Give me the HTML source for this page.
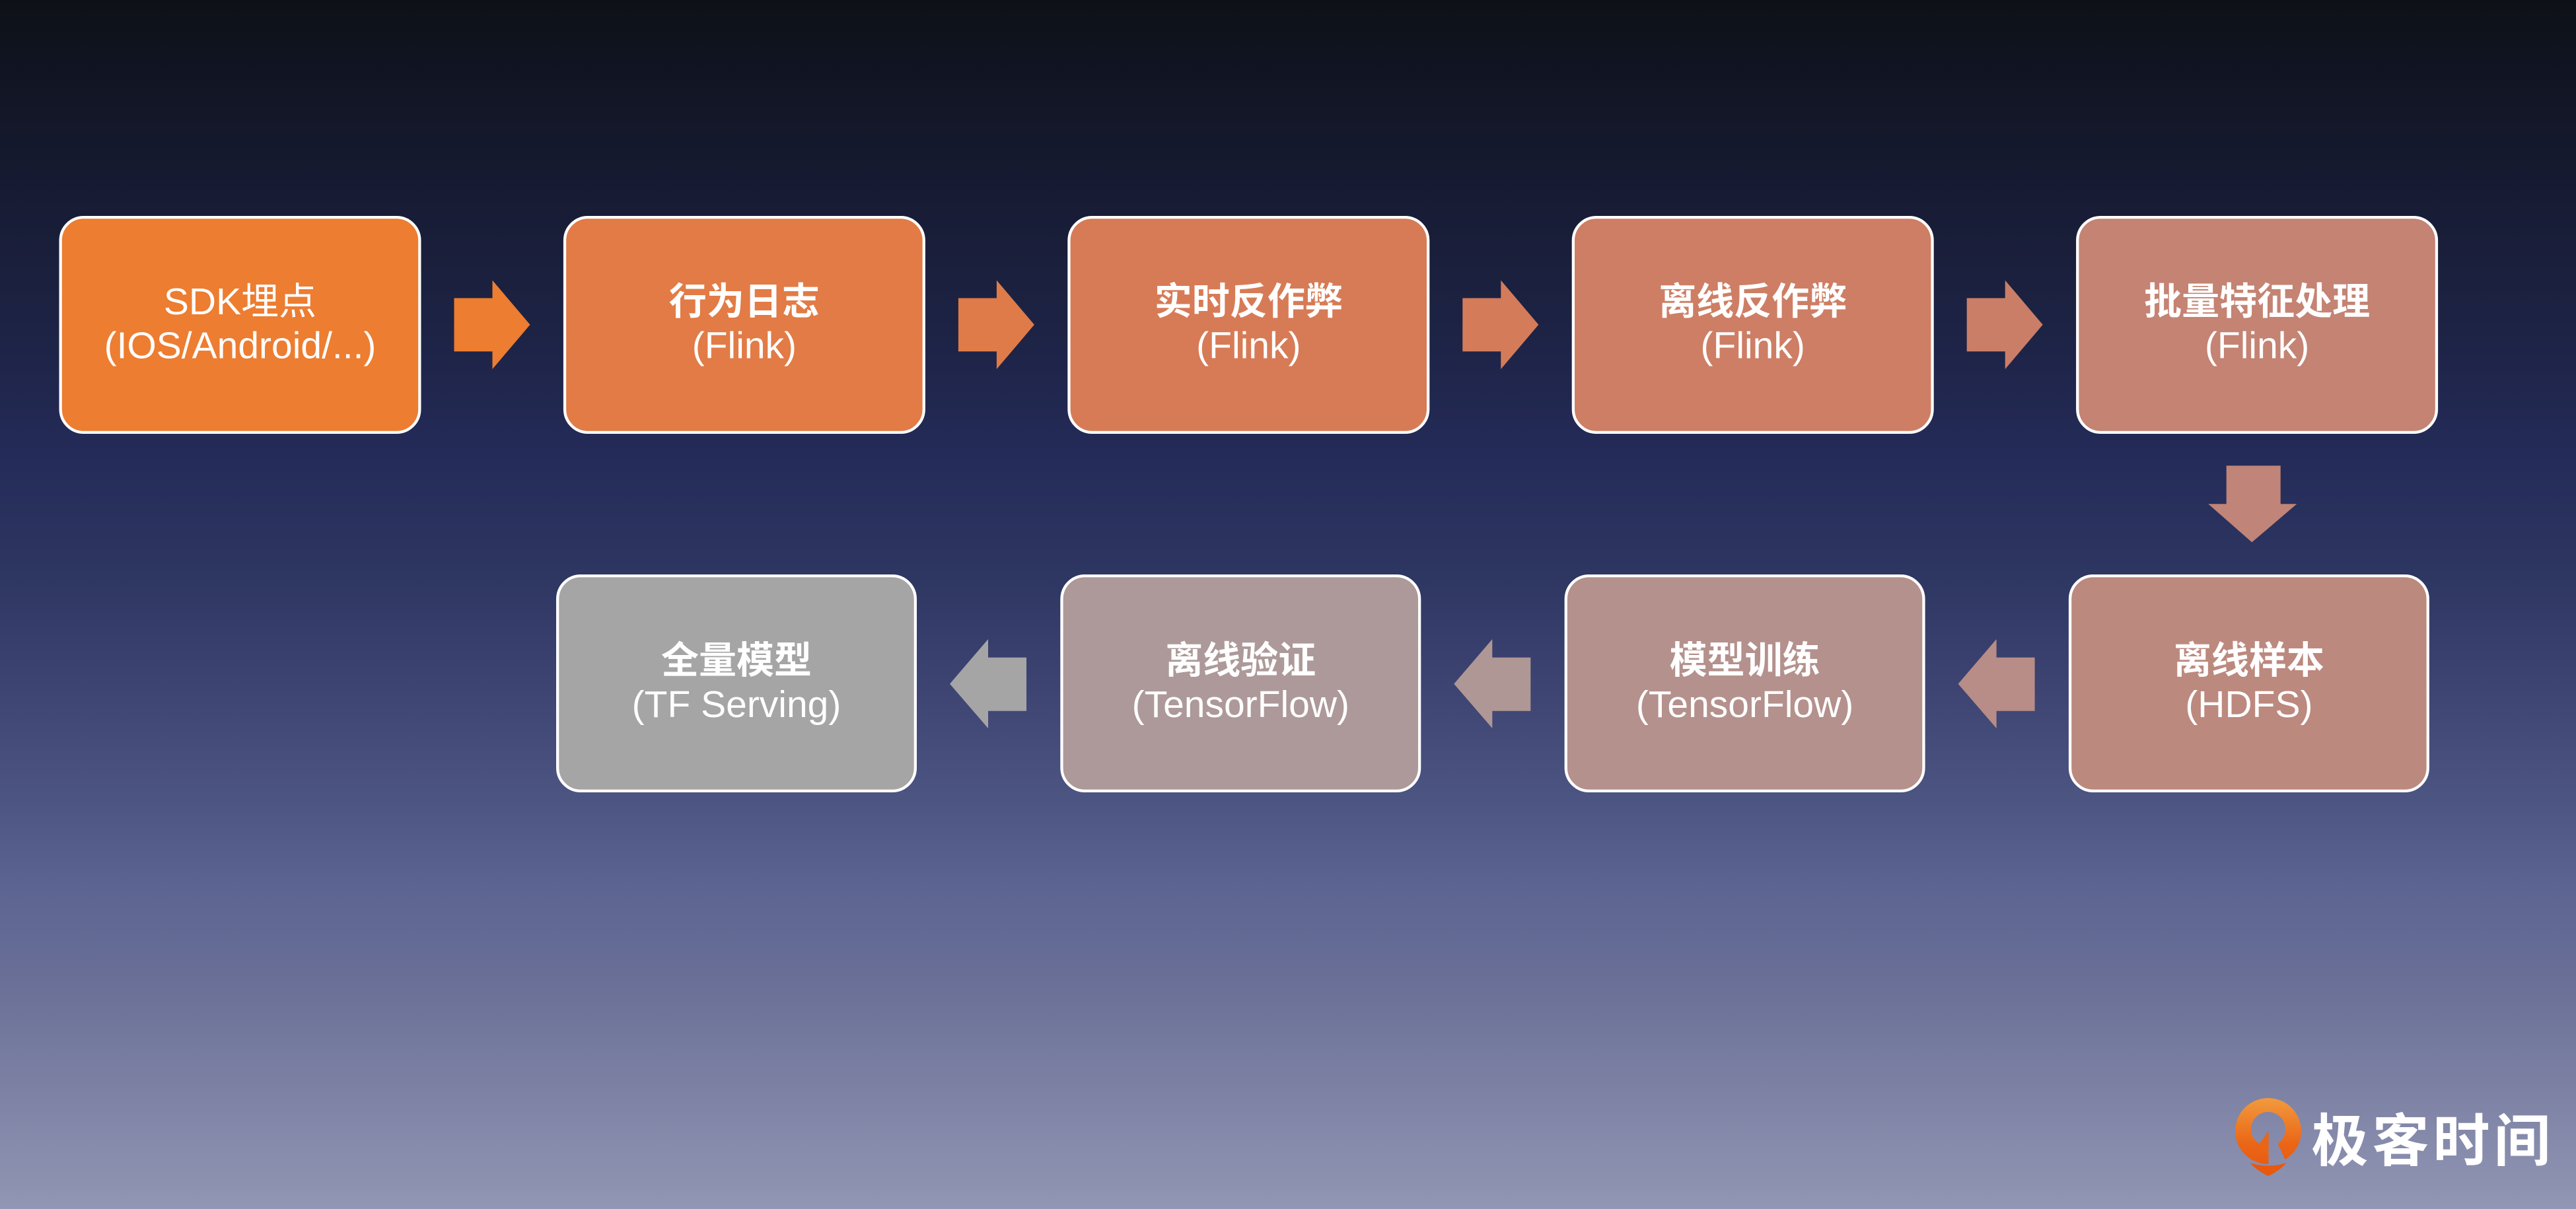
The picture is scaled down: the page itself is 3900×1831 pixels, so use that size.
<!DOCTYPE html>
<html>
<head>
<meta charset="utf-8">
<style>
  html, body { margin: 0; padding: 0; background: #0D1117; }
  svg { display: block; }
  .t { font-family: "Liberation Sans", "Noto Sans CJK SC", sans-serif; font-size: 57px; fill: #ffffff; text-anchor: middle; }
  .cn { font-weight: bold; }
  .logo { font-family: "Liberation Sans", "Noto Sans CJK SC", sans-serif; font-size: 86px; font-weight: bold; fill: #ffffff; letter-spacing: 6px; }
</style>
</head>
<body>
<svg width="3900" height="1831" viewBox="0 0 3900 1831" xmlns="http://www.w3.org/2000/svg">
  <defs>
    <linearGradient id="bg" x1="0" y1="0" x2="0" y2="1831" gradientUnits="userSpaceOnUse">
      <stop offset="0" stop-color="#0D1117"/>
      <stop offset="0.064" stop-color="#111523"/>
      <stop offset="0.16" stop-color="#171B33"/>
      <stop offset="0.287" stop-color="#1E2447"/>
      <stop offset="0.376" stop-color="#242B58"/>
      <stop offset="0.478" stop-color="#2E3662"/>
      <stop offset="0.574" stop-color="#3E4573"/>
      <stop offset="0.67" stop-color="#4E5683"/>
      <stop offset="0.733" stop-color="#5C6491"/>
      <stop offset="0.816" stop-color="#6A7097"/>
      <stop offset="0.893" stop-color="#7B80A3"/>
      <stop offset="0.982" stop-color="#8E92B1"/>
      <stop offset="1" stop-color="#9297B5"/>
    </linearGradient>
    <linearGradient id="logoG" x1="0" y1="1663" x2="0" y2="1781" gradientUnits="userSpaceOnUse">
      <stop offset="0" stop-color="#F29A3E"/>
      <stop offset="0.6" stop-color="#EA6516"/>
      <stop offset="1" stop-color="#E8580F"/>
    </linearGradient>
    <clipPath id="gapClip">
      <path d="M3370,1650 L3500,1650 L3500,1790 L3370,1790 Z M3434.6,1713 L3434.6,1775 L3468,1775 L3440,1713 Z" clip-rule="evenodd"/>
    </clipPath>
  </defs>

  <rect x="0" y="0" width="3900" height="1831" fill="url(#bg)"/>

  <!-- Row 1 boxes -->
  <g stroke="#ffffff" stroke-width="4.3">
    <rect x="91.65" y="329.15" width="543.7" height="325.7" rx="35" fill="#ED7D31"/>
    <rect x="855.05" y="329.15" width="543.7" height="325.7" rx="35" fill="#E27B45"/>
    <rect x="1618.45" y="329.15" width="543.7" height="325.7" rx="35" fill="#D77B56"/>
    <rect x="2381.85" y="329.15" width="543.7" height="325.7" rx="35" fill="#CE7E64"/>
    <rect x="3145.25" y="329.15" width="543.7" height="325.7" rx="35" fill="#C48373"/>
  </g>

  <!-- Row 2 boxes -->
  <g stroke="#ffffff" stroke-width="4.3">
    <rect x="844.15" y="872.15" width="541.7" height="325.7" rx="35" fill="#A5A5A5"/>
    <rect x="1607.45" y="872.15" width="541.7" height="325.7" rx="35" fill="#AD9999"/>
    <rect x="2370.75" y="872.15" width="541.7" height="325.7" rx="35" fill="#B4918D"/>
    <rect x="3134.05" y="872.15" width="541.7" height="325.7" rx="35" fill="#BC897F"/>
  </g>

  <!-- Row 1 arrows (right) -->
  <polygon fill="#ED7D31" points="687.5,451.5 745.5,451.5 745.5,424.5 802.5,491.8 745.5,559 745.5,532.3 687.5,532.3"/>
  <polygon fill="#DF7B48" points="1450.9,451.5 1508.9,451.5 1508.9,424.5 1565.9,491.8 1508.9,559 1508.9,532.3 1450.9,532.3"/>
  <polygon fill="#D47C5A" points="2214.3,451.5 2272.3,451.5 2272.3,424.5 2329.3,491.8 2272.3,559 2272.3,532.3 2214.3,532.3"/>
  <polygon fill="#CB7E67" points="2977.7,451.5 3035.7,451.5 3035.7,424.5 3092.7,491.8 3035.7,559 3035.7,532.3 2977.7,532.3"/>

  <!-- Down arrow -->
  <polygon fill="#C08478" points="3370.7,705.3 3452.7,705.3 3452.7,763.3 3477.3,763.3 3409.3,821.3 3343.3,763.3 3370.7,763.3"/>

  <!-- Row 2 arrows (left) -->
  <polygon fill="#B88D87" points="2964.6,1035.7 3022.6,968 3022.6,995.7 3080.6,995.7 3080.6,1076.7 3022.6,1076.7 3022.6,1103"/>
  <polygon fill="#AF9795" points="2201.3,1035.7 2259.3,968 2259.3,995.7 2317.3,995.7 2317.3,1076.7 2259.3,1076.7 2259.3,1103"/>
  <polygon fill="#A5A5A5" points="1438,1035.7 1496,968 1496,995.7 1554,995.7 1554,1076.7 1496,1076.7 1496,1103"/>

  <!-- Row 1 text -->
  <text class="t" x="363.5" y="476">SDK埋点</text>
  <text class="t" x="363.5" y="542.5">(IOS/Android/...)</text>

  <text class="t cn" x="1126.9" y="476">行为日志</text>
  <text class="t" x="1126.9" y="542.5">(Flink)</text>

  <text class="t cn" x="1890.3" y="476">实时反作弊</text>
  <text class="t" x="1890.3" y="542.5">(Flink)</text>

  <text class="t cn" x="2653.7" y="476">离线反作弊</text>
  <text class="t" x="2653.7" y="542.5">(Flink)</text>

  <text class="t cn" x="3417.1" y="476">批量特征处理</text>
  <text class="t" x="3417.1" y="542.5">(Flink)</text>

  <!-- Row 2 text -->
  <text class="t cn" x="1115" y="1019.5">全量模型</text>
  <text class="t" x="1115" y="1086">(TF Serving)</text>

  <text class="t cn" x="1878.3" y="1019.5">离线验证</text>
  <text class="t" x="1878.3" y="1086">(TensorFlow)</text>

  <text class="t cn" x="2641.6" y="1019.5">模型训练</text>
  <text class="t" x="2641.6" y="1086">(TensorFlow)</text>

  <text class="t cn" x="3404.9" y="1019.5">离线样本</text>
  <text class="t" x="3404.9" y="1086">(HDFS)</text>

  <!-- Logo -->
  <g>
    <path clip-path="url(#gapClip)" fill="url(#logoG)" fill-rule="evenodd"
      d="M3384,1713 A50,50 0 1,0 3484,1713 A50,50 0 1,0 3384,1713 Z M3408,1710 A26,26 0 1,0 3460,1710 A26,26 0 1,0 3408,1710 Z"/>
    <polygon fill="#EA6516" points="3417,1737 3434.6,1713 3434.6,1750"/>
    <path fill="#E8580F" d="M3406,1761 Q3434,1770 3462,1761 Q3450,1774 3434,1781 Q3418,1774 3406,1761 Z"/>
  </g>
  <text class="logo" x="3499.5" y="1758">极客时间</text>
</svg>
</body>
</html>
